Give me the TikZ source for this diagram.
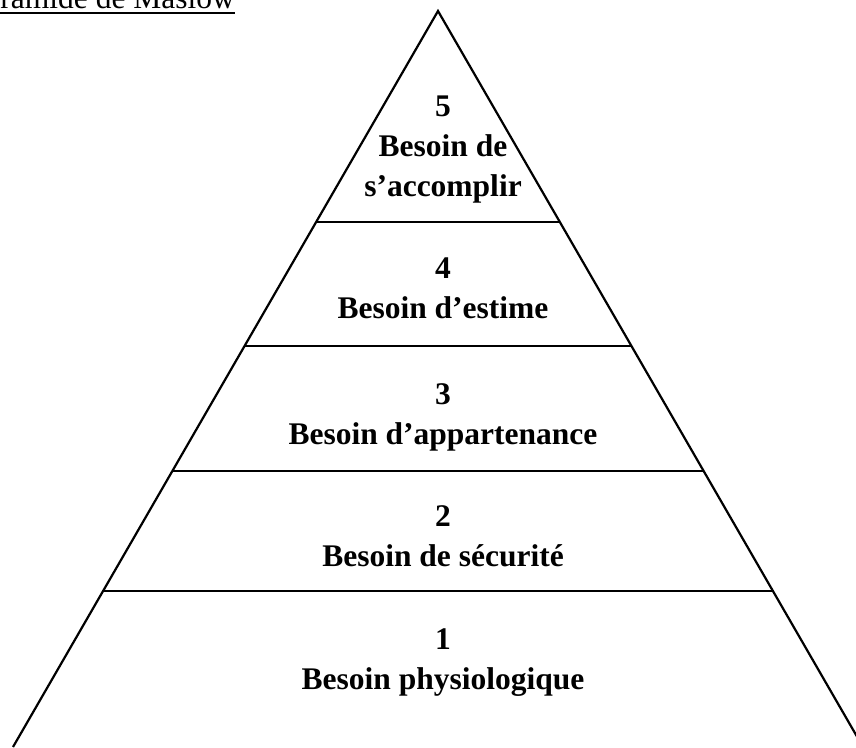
\documentclass[tikz,border=0pt]{standalone}
\usepackage{fontspec}
\setmainfont{Liberation Serif}
\usetikzlibrary{calc}

\begin{document}
\begin{tikzpicture}[x=1pt,y=1pt]
        % Fix the page size and cut off what falls outside it
        \useasboundingbox (0,0) rectangle (856,747);
        \clip (0,0) rectangle (856,747);

        % Corners of the pyramid (its base lies below the page)
        \coordinate (top) at (438,736);
        \coordinate (bl) at (13,0);
        \coordinate (br) at (863,0);

        % Draw the two sides
        \draw[line width=2.2pt] (bl) -- (top) -- (br);

        % Draw the lines between the levels
        \foreach \t/\n in {0.2867/a, 0.4552/b, 0.6250/c, 0.7880/d} {
            \coordinate (l\n) at ($(top)!\t!(bl)$);
            \coordinate (r\n) at ($(top)!\t!(br)$);
            \draw[line width=1.4pt] (l\n) -- (r\n);
        }

        % Label the levels
        \node[font=\fontsize{31.5}{40}\selectfont\bfseries, align=center] (lvl5) at (443,597) {5\\Besoin de\\s’accomplir};
        \node[font=\fontsize{31.5}{40}\selectfont\bfseries, align=center] (lvl4) at (443,459) {4\\Besoin d’estime};
        \node[font=\fontsize{31.5}{40}\selectfont\bfseries, align=center] (lvl3) at (443,330) {3\\Besoin d’appartenance};
        \node[font=\fontsize{31.5}{40}\selectfont\bfseries, align=center] (lvl2) at (443,211) {2\\Besoin de sécurité};
        \node[font=\fontsize{31.5}{40}\selectfont\bfseries, align=center] (lvl1) at (443,84) {1\\Besoin physiologique};

        % Title, underlined
        \node[font=\fontsize{31.5}{40}\selectfont, inner sep=0pt, anchor=base west] (title) at (-33,738) {Pyramide de Maslow};
        \draw[line width=1.8pt] ([yshift=-4pt]title.base west) -- ([yshift=-4pt]title.base east);
\end{tikzpicture}
\end{document}
